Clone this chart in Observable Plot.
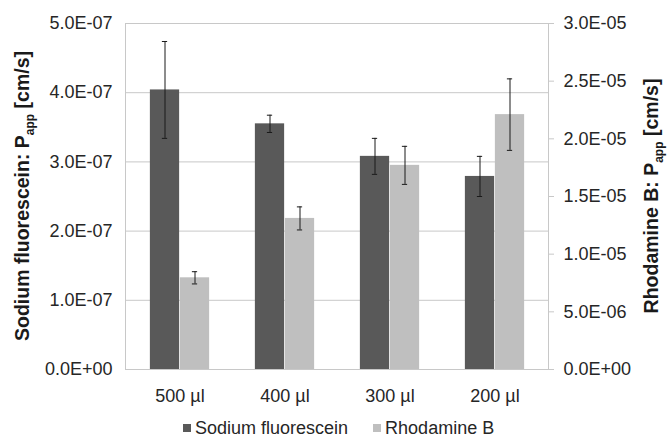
<!DOCTYPE html>
<html>
<head>
<meta charset="utf-8">
<script src="https://cdn.jsdelivr.net/npm/d3@7"></script>
<script src="https://cdn.jsdelivr.net/npm/@observablehq/plot@0.6"></script>
<style>
  html, body { margin: 0; padding: 0; background: #fff; overflow: hidden; }
  body { font-family: "Liberation Sans", Arial, sans-serif; color: #262626; }
  #legend { display: flex; align-items: center; padding-left: 183px; height: 26px; font-size: 18px; line-height: 26px; }
  #legend .item { display: flex; align-items: center; margin-right: 25px; }
  #legend .swatch { display: inline-block; width: 8px; height: 8px; margin-right: 4px; }
</style>
</head>
<body>
<div id="chart"></div>
<div id="legend"></div>
<script>
// Apparent permeability per donor volume
const volumes = ["500 µl", "400 µl", "300 µl", "200 µl"];
const fluoresceinMean = [4.04e-7, 3.55e-7, 3.08e-7, 2.79e-7];
const fluoresceinErr = [0.70e-7, 0.125e-7, 0.26e-7, 0.29e-7];
const rhodamineMean = [7.95e-6, 1.31e-5, 1.77e-5, 2.21e-5];
const rhodamineErr = [0.53e-6, 0.10e-5, 0.165e-5, 0.31e-5];

const seriesNames = ["Sodium fluorescein", "Rhodamine B"];
const seriesColors = ["#595959", "#bfbfbf"];

const leftTicks = [0, 1e-7, 2e-7, 3e-7, 4e-7, 5e-7];
const rightTicks = [0, 5e-6, 1e-5, 1.5e-5, 2e-5, 2.5e-5, 3e-5];

// Rhodamine B is drawn on the left scale, rescaled so 3.0E-05 meets 5.0E-07
const k = 5e-7 / 3e-5;

// Excel-style scientific format: 0.0E+00
function sci(d) {
  if (d === 0) return "0.0E+00";
  const e = Math.floor(Math.log10(Math.abs(d)) + 1e-9);
  const m = d / Math.pow(10, e);
  return m.toFixed(1) + "E" + (e < 0 ? "-" : "+") + String(Math.abs(e)).padStart(2, "0");
}

const rows = [];
volumes.forEach((v, i) => {
  rows.push({volume: v, series: seriesNames[0], y: fluoresceinMean[i],
             lo: fluoresceinMean[i] - fluoresceinErr[i], hi: fluoresceinMean[i] + fluoresceinErr[i]});
  rows.push({volume: v, series: seriesNames[1], y: rhodamineMean[i] * k,
             lo: (rhodamineMean[i] - rhodamineErr[i]) * k, hi: (rhodamineMean[i] + rhodamineErr[i]) * k});
});
const sf = rows.filter(d => d.series === seriesNames[0]);
const rb = rows.filter(d => d.series === seriesNames[1]);

const W = 668, H = 415;
const mL = 125, mR = 120, mT = 23, mB = 46;
const band = (W - mL - mR) / volumes.length;
const barW = 30;
const side = (band - 2 * barW) / 2;
const capHalf = 3;
const gridColor = "#c8c8c8";
const inkColor = "#262626";

const chart = Plot.plot({
  width: W,
  height: H,
  marginLeft: mL,
  marginRight: mR,
  marginTop: mT,
  marginBottom: mB,
  style: {fontFamily: "'Liberation Sans', Arial, sans-serif", fontSize: "18px", color: inkColor, background: "#fff"},
  x: {domain: volumes, padding: 0, axis: null},
  y: {domain: [0, 5e-7], axis: null},
  marks: [
    Plot.gridY(leftTicks, {stroke: gridColor, strokeOpacity: 1}),
    Plot.barY(sf, {x: "volume", y: "y", fill: seriesColors[0], insetLeft: side, insetRight: side + barW}),
    Plot.barY(rb, {x: "volume", y: "y", fill: seriesColors[1], insetLeft: side + barW, insetRight: side}),
    Plot.frame({stroke: gridColor}),
    // error bars
    Plot.ruleX(sf, {x: "volume", y1: "lo", y2: "hi", dx: -barW / 2, stroke: "#1a1a1a", strokeWidth: 1}),
    Plot.ruleX(rb, {x: "volume", y1: "lo", y2: "hi", dx: barW / 2, stroke: "#1a1a1a", strokeWidth: 1}),
    Plot.tickY(sf, {x: "volume", y: "lo", dx: -barW / 2, insetLeft: band / 2 - capHalf, insetRight: band / 2 - capHalf, stroke: "#1a1a1a"}),
    Plot.tickY(sf, {x: "volume", y: "hi", dx: -barW / 2, insetLeft: band / 2 - capHalf, insetRight: band / 2 - capHalf, stroke: "#1a1a1a"}),
    Plot.tickY(rb, {x: "volume", y: "lo", dx: barW / 2, insetLeft: band / 2 - capHalf, insetRight: band / 2 - capHalf, stroke: "#1a1a1a"}),
    Plot.tickY(rb, {x: "volume", y: "hi", dx: barW / 2, insetLeft: band / 2 - capHalf, insetRight: band / 2 - capHalf, stroke: "#1a1a1a"}),
    // axes
    Plot.axisX({tickSize: 0, tickPadding: 20, label: null, fill: inkColor}),
    Plot.axisY(leftTicks, {anchor: "left", tickSize: 0, tickPadding: 13, tickFormat: sci, label: null, fill: inkColor}),
    Plot.axisY(rightTicks, {anchor: "right", y: d => d * k, tickSize: 5, tickPadding: 10, tickFormat: sci, label: null, stroke: gridColor, fill: inkColor})
  ]
});

document.getElementById("chart").appendChild(chart);

// Rotated axis titles with subscripts
const svg = d3.select(chart);
const midY = mT + (H - mT - mB) / 2;
function title(x, first) {
  const t = svg.append("text")
    .attr("transform", `translate(${x},${midY}) rotate(-90)`)
    .attr("text-anchor", "middle")
    .attr("font-weight", "bold")
    .attr("font-size", 19.5)
    .attr("fill", "#1a1a1a")
    .attr("dy", "0.35em");
  t.append("tspan").text(first + "P");
  t.append("tspan").attr("font-size", 12).attr("dy", 5).text("app");
  t.append("tspan").attr("dy", -5).text(" [cm/s]");
}
title(22, "Sodium fluorescein: ");
title(651, "Rhodamine B: ");

// Legend
const legend = d3.select("#legend");
seriesNames.forEach((name, i) => {
  const item = legend.append("span").attr("class", "item");
  item.append("span").attr("class", "swatch").style("background", seriesColors[i]);
  item.append("span").text(name);
});
</script>
</body>
</html>
